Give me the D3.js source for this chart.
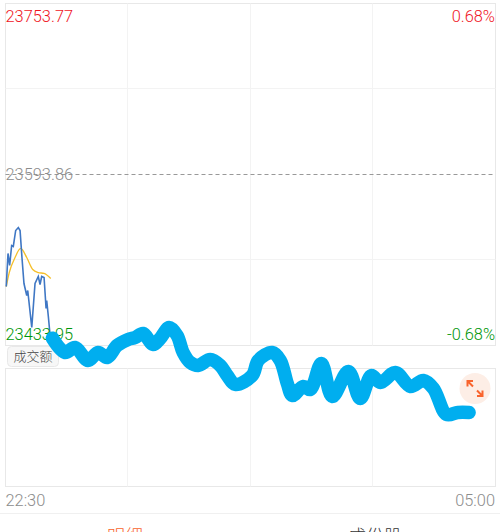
<!DOCTYPE html>
<html>
<head>
<meta charset="utf-8">
<script src="https://cdn.jsdelivr.net/npm/d3@7"></script>
<style>
  html, body { margin: 0; padding: 0; background: #fff; }
  text { font-family: Roboto, "Noto Sans CJK SC", sans-serif; font-weight: 300; }
</style>
</head>
<body>
<svg id="chart" width="500" height="532" style="display:block"></svg>
<script>
// minutes after 22:30 and index level
var priceMinutes = [0.6, 2, 3.3, 4.9, 6.2, 8.1, 10.2, 11.6, 13.1, 14.7, 16.9, 17.7, 20.9, 23.5, 26.1, 27.5, 28.8, 30.7, 32.3, 32.8, 34.1, 35.5];
var priceValues = [23489.1, 23520.0, 23508.8, 23527.5, 23526.6, 23541.5, 23544.3, 23541.5, 23516.2, 23491.9, 23480.7, 23485.4, 23450.8, 23491.9, 23498.5, 23491.0, 23498.5, 23497.5, 23468.5, 23476.0, 23461.1, 23443.3];

var avgMinutes = [0.6, 3, 7.6, 12.1, 16.9, 21.7, 26.1, 30.7, 36];
var avgValues = [23489.1, 23502.2, 23516.2, 23524.7, 23516.2, 23505.0, 23502.2, 23501.3, 23496.6];

// the thick cyan stroke scribbled over the chart
var markMinutes = [37.3, 47.4, 55.4, 65.7, 73.7, 80.9, 88.8, 97.6, 103.2, 109.5, 117.5, 123.1, 130.3, 136.6, 141.4, 147, 153.4, 162.9, 170.9, 176.5, 182.9, 196.4, 201.2, 212.3, 218.7, 224.3, 228.3, 237, 242.6, 251.4, 260.1, 272.9, 282.4, 291.2, 298.4, 310.3, 322.3, 332.6, 340.6, 351, 360, 369];
var markValues = [23440.8, 23427.4, 23432.1, 23420.0, 23427.4, 23422.7, 23433.9, 23439.6, 23441.4, 23445.2, 23434.9, 23440.5, 23450.8, 23443.3, 23427.4, 23418.1, 23415.3, 23420.9, 23415.3, 23405.9, 23397.5, 23405.9, 23420.0, 23427.4, 23420.0, 23398.4, 23387.2, 23395.6, 23392.8, 23417.1, 23386.3, 23409.7, 23384.4, 23405.9, 23399.4, 23408.7, 23395.6, 23401.2, 23393.8, 23369.5, 23371.3, 23371.3];

var priceLabels = ["23753.77", "23593.86", "23433.95"];
var pctLabels = ["0.68%", "-0.68%"];
var timeLabels = ["22:30", "05:00"];
var tabLabels = ["明细", "成份股"];

var svg = d3.select("#chart");
var gridColor = "#f3f3f3";
var borderColor = "#e8e8e8";

var plotLeft = 5.5, plotRight = 495.5, plotTop = 3.5, plotMid = 345.5, volTop = 368.5, volBottom = 486.5;

var x = d3.scaleLinear().domain([0, 390]).range([plotLeft, plotRight]);
var y = d3.scaleLinear().domain([23433.95, 23753.77]).range([plotMid, plotTop]);
var prevClose = 23593.86;

// panels
svg.append("rect").attr("x", plotLeft).attr("y", plotTop).attr("width", plotRight - plotLeft).attr("height", plotMid - plotTop)
    .attr("fill", "none").attr("stroke", borderColor);
svg.append("rect").attr("x", plotLeft).attr("y", volTop).attr("width", plotRight - plotLeft).attr("height", volBottom - volTop)
    .attr("fill", "none").attr("stroke", borderColor);

// vertical grid in both panels
[97.5, 195, 292.5].forEach(function (m) {
  var gx = Math.round(x(m)) - 0.5;
  [[plotTop, plotMid], [volTop, volBottom]].forEach(function (r) {
    svg.append("line").attr("x1", gx).attr("x2", gx).attr("y1", r[0]).attr("y2", r[1])
        .attr("stroke", gridColor);
  });
});

// horizontal grid, the middle one is the previous close
[23673.8, 23513.9].forEach(function (v) {
  var gy = Math.round(y(v)) - 0.5;
  svg.append("line").attr("x1", plotLeft).attr("x2", plotRight).attr("y1", gy).attr("y2", gy)
      .attr("stroke", gridColor);
});
svg.append("line").attr("x1", plotLeft).attr("x2", plotRight).attr("y1", y(prevClose)).attr("y2", y(prevClose))
    .attr("stroke", "#999").attr("stroke-dasharray", "4,3");

var lineOf = function (xs, curve) {
  return d3.line()
      .x(function (d, i) { return x(xs[i]); })
      .y(function (d) { return y(d); })
      .curve(curve);
};

svg.append("path").datum(avgValues)
    .attr("d", lineOf(avgMinutes, d3.curveMonotoneX))
    .attr("fill", "none").attr("stroke", "#f5bf2a").attr("stroke-width", 1.3);
svg.append("path").datum(priceValues)
    .attr("d", lineOf(priceMinutes, d3.curveLinear))
    .attr("fill", "none").attr("stroke", "#3f77c4").attr("stroke-width", 1.6);

function label(txt, lx, ly, color, anchor, size) {
  return svg.append("text").attr("x", lx).attr("y", ly).text(txt)
      .attr("fill", color).attr("text-anchor", anchor || "start")
      .attr("font-size", size || 16.4);
}

label(priceLabels[0], 5.5, 22, "#f0141e");
label(pctLabels[0], 495, 22, "#f0141e", "end");
label(priceLabels[1], 5.5, 180, "#8c8c8c");
label(priceLabels[2], 5.5, 339.5, "#009608");
label(pctLabels[1], 495, 339.5, "#009608", "end");

// volume tag
svg.append("rect").attr("x", 7.5).attr("y", 346.5).attr("width", 51).attr("height", 20).attr("rx", 4)
    .attr("fill", "#f7f7f7").attr("stroke", "#e8e8e8");
label("成交额", 33, 361, "#444", "middle", 13);

// cyan stroke goes on top of everything
svg.append("path").datum(markValues)
    .attr("d", lineOf(markMinutes, d3.curveCatmullRom))
    .attr("fill", "none").attr("stroke", "#00aeef").attr("stroke-width", 13.5)
    .attr("stroke-linecap", "round").attr("stroke-linejoin", "round");

// expand button
var btn = svg.append("g").attr("transform", "translate(475,388.5)");
btn.append("circle").attr("r", 15.5).attr("fill", "#fdeee6");
btn.append("path")
    .attr("d", "M-7.5,-2V-7.5H-2M-7.5,-7.5L-2,-2M7.5,2V7.5H2M7.5,7.5L2,2")
    .attr("fill", "none").attr("stroke", "#f9642d").attr("stroke-width", 2);

label(timeLabels[0], 5.5, 506, "#8c8c8c");
label(timeLabels[1], 495, 506, "#8c8c8c", "end");

svg.append("line").attr("x1", 0).attr("x2", 500).attr("y1", 513.5).attr("y2", 513.5).attr("stroke", "#f0f0f0");
label(tabLabels[0], 125, 543, "#f9642d", "middle", 18);
label(tabLabels[1], 375, 543, "#333", "middle", 18);
</script>
</body>
</html>
